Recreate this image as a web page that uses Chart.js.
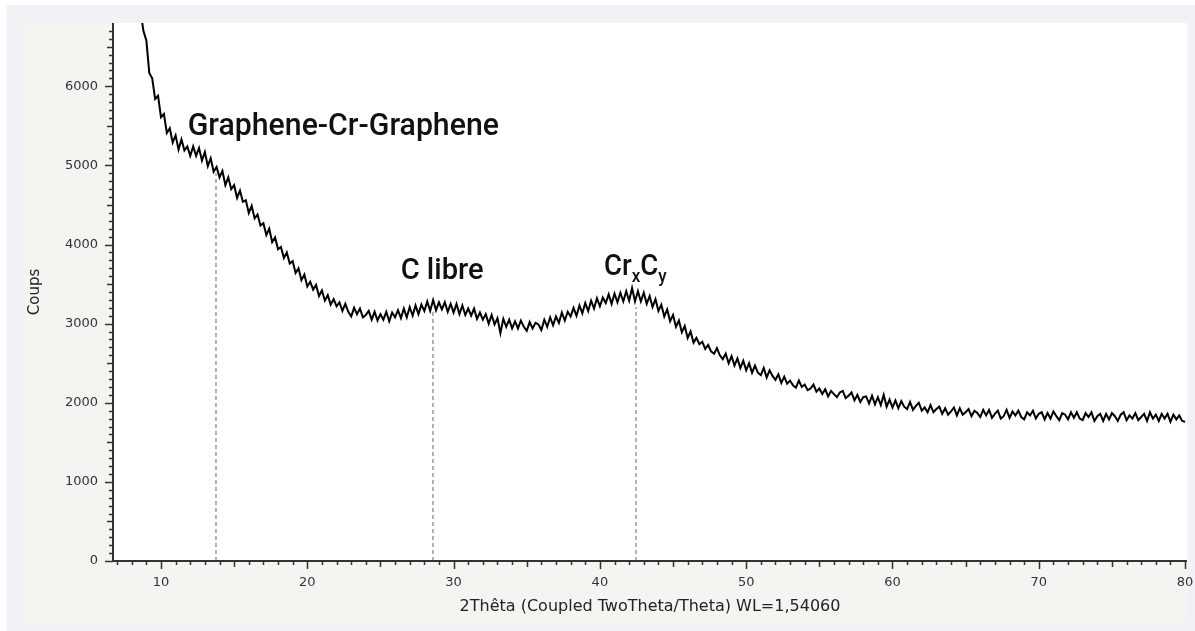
<!DOCTYPE html>
<html>
<head>
<meta charset="utf-8">
<script src="https://cdn.jsdelivr.net/npm/chart.js@4.4.1/dist/chart.umd.min.js"></script>
<style>
  html, body { margin: 0; padding: 0; background: #ffffff; }
  #xrd_wrap { width: 1195px; height: 631px; }
</style>
</head>
<body>
<div id="xrd_wrap"><canvas id="xrd_chart" width="1195" height="631"></canvas></div>
<script>
// Scan sampling (degrees 2theta)
const twoThetaStart = 8.6;
const twoThetaStep = 0.2;

// Counts, one row = 2 degrees
const counts = [
  6950, 6700, 6580, 6170, 6100, 5840, 5880, 5610, 5650, 5410,
  5470, 5290, 5380, 5200, 5330, 5190, 5240, 5120, 5240, 5120,
  5220, 5060, 5170, 4990, 5090, 4920, 4980, 4850, 4930, 4750,
  4850, 4700, 4750, 4590, 4680, 4540, 4560, 4400, 4490, 4330,
  4380, 4240, 4270, 4120, 4200, 4030, 4090, 3940, 3970, 3830,
  3900, 3760, 3790, 3640, 3700, 3550, 3620, 3470, 3530, 3430,
  3490, 3350, 3420, 3290, 3360, 3240, 3310, 3220, 3270, 3160,
  3250, 3150, 3090, 3200, 3120, 3190, 3080, 3110, 3160, 3050,
  3150, 3040, 3120, 3050, 3150, 3030, 3140, 3080, 3170, 3070,
  3190, 3080, 3210, 3100, 3230, 3120, 3240, 3160, 3280, 3160,
  3300, 3170, 3270, 3180, 3270, 3150, 3250, 3140, 3250, 3120,
  3230, 3110, 3190, 3100, 3190, 3060, 3140, 3050, 3120, 3000,
  3110, 2990, 3070, 2880, 3060, 2960, 3050, 2940, 3030, 2940,
  3040, 2960, 2910, 3020, 2940, 3010, 2990, 2920, 3050, 2960,
  3080, 2980, 3090, 3010, 3140, 3040, 3150, 3090, 3200, 3100,
  3230, 3130, 3260, 3160, 3290, 3190, 3320, 3220, 3330, 3260,
  3370, 3250, 3380, 3270, 3390, 3280, 3410, 3290, 3450, 3280,
  3410, 3280, 3390, 3250, 3350, 3210, 3310, 3160, 3240, 3090,
  3180, 3030, 3110, 2960, 3040, 2890, 2970, 2820, 2900, 2760,
  2820, 2740, 2770, 2680, 2730, 2650, 2620, 2690, 2600, 2550,
  2620, 2500, 2590, 2470, 2560, 2440, 2530, 2410, 2500, 2380,
  2470, 2380, 2350, 2440, 2320, 2410, 2340, 2290, 2360, 2250,
  2330, 2240, 2280, 2220, 2190, 2280, 2200, 2230, 2160, 2180,
  2230, 2140, 2180, 2110, 2170, 2080, 2150, 2110, 2070, 2130,
  2150, 2060, 2090, 2130, 2030, 2100, 2010, 2070, 2080, 1990,
  2090, 1980, 2070, 1970, 2100, 1950, 2040, 1940, 2030, 1930,
  2020, 1950, 1920, 2010, 1910, 1960, 2000, 1900, 1940, 1880,
  1970, 1880, 1920, 1950, 1860, 1930, 1850, 1890, 1940, 1840,
  1930, 1850, 1880, 1920, 1830, 1900, 1870, 1820, 1910, 1840,
  1910, 1810, 1860, 1900, 1800, 1830, 1910, 1810, 1890, 1840,
  1900, 1820, 1790, 1880, 1840, 1900, 1800, 1860, 1880, 1790,
  1870, 1800, 1890, 1830, 1780, 1870, 1850, 1790, 1880, 1810,
  1880, 1800, 1780, 1870, 1820, 1880, 1770, 1830, 1860, 1770,
  1860, 1790, 1870, 1830, 1770, 1850, 1880, 1780, 1840, 1800,
  1870, 1780, 1820, 1860, 1770, 1880, 1800, 1850, 1770, 1860,
  1800, 1860, 1760, 1850, 1790, 1840, 1770, 1760
];

// Marked phases: position of the dashed line and where it meets the curve
const peakNames = ['Graphene-Cr-Graphene', 'C libre', 'CrxCy'];
const peakAngles = [13.76, 28.59, 42.47];
const peakTops = [4900, 3150, 3210];

// Tick labels
const xTickValues = [10, 20, 30, 40, 50, 60, 70, 80];
const yTickValues = [0, 1000, 2000, 3000, 4000, 5000, 6000];

// Build {x,y} points for the scan
const scanPoints = counts.map((c, i) => ({
  x: Math.round((twoThetaStart + i * twoThetaStep) * 10) / 10,
  y: c
}));

// One dashed dataset per marked peak
const peakDatasets = peakAngles.map((a, i) => ({
  label: peakNames[i],
  data: [{ x: a, y: 0 }, { x: a, y: peakTops[i] }],
  borderColor: '#666666',
  borderWidth: 1,
  borderDash: [4, 3],
  pointRadius: 0
}));

// Label placement (data units: left edge in degrees, baseline in counts)
const labelPlacement = [
  { x: 11.83, y: 5390, size: 32, squeeze: 0.945 },
  { x: 26.38, y: 3560, size: 30, squeeze: 0.97 },
  { x: 40.28, y: 3610, size: 29, squeeze: 0.95 }
];
const labelFont = '500 {size}px Roboto, "Liberation Sans", sans-serif';

// Page, panel and plot backgrounds
const panelBackground = {
  id: 'panelBackground',
  beforeDraw(chart) {
    const { ctx, chartArea } = chart;
    ctx.save();
    ctx.fillStyle = '#ffffff';
    ctx.fillRect(0, 0, chart.width, chart.height);
    ctx.fillStyle = '#f0f2f5';
    ctx.fillRect(7, 5, chart.width - 7, chart.height - 5);
    ctx.fillStyle = '#f5f4f1';
    ctx.fillRect(22, 23, chartArea.right - 22, 599);
    ctx.fillStyle = '#ffffff';
    ctx.fillRect(chartArea.left, chartArea.top,
      chartArea.right - chartArea.left, chartArea.bottom - chartArea.top);
    ctx.restore();
  }
};

// Axis lines with major / half / minor tick marks
const axisTicks = {
  id: 'axisTicks',
  afterDraw(chart) {
    const { ctx, chartArea } = chart;
    const x = chart.scales.x;
    const y = chart.scales.y;
    ctx.save();
    ctx.strokeStyle = '#333333';
    ctx.lineWidth = 1.5;
    ctx.beginPath();
    for (let v = 7; v <= 80; v++) {
      const px = Math.round(x.getPixelForValue(v)) + 0.5;
      const len = v % 10 === 0 ? 8 : (v % 5 === 0 ? 6 : 4);
      ctx.moveTo(px, chartArea.bottom);
      ctx.lineTo(px, chartArea.bottom + len);
    }
    for (let v = 0; v <= 6700; v += 100) {
      const py = Math.round(y.getPixelForValue(v)) + 0.5;
      const len = v % 1000 === 0 ? 8 : (v % 500 === 0 ? 6 : 4);
      ctx.moveTo(chartArea.left, py);
      ctx.lineTo(chartArea.left - len, py);
    }
    ctx.stroke();
    ctx.lineWidth = 2;
    ctx.beginPath();
    ctx.moveTo(chartArea.left, chartArea.top);
    ctx.lineTo(chartArea.left, chartArea.bottom);
    ctx.lineTo(chartArea.right, chartArea.bottom);
    ctx.stroke();
    ctx.restore();
  }
};

// Phase names written over the curve
const peakLabels = {
  id: 'peakLabels',
  afterDatasetsDraw(chart) {
    const { ctx } = chart;
    const x = chart.scales.x;
    const y = chart.scales.y;
    ctx.save();
    ctx.fillStyle = '#111111';
    ctx.textBaseline = 'alphabetic';
    peakNames.forEach((name, i) => {
      const p = labelPlacement[i];
      const px = x.getPixelForValue(p.x);
      const py = y.getPixelForValue(p.y);
      ctx.save();
      ctx.translate(px, py);
      ctx.scale(p.squeeze, 1);
      if (name === 'CrxCy') {
        // Cr with subscript x, C with subscript y
        const big = labelFont.replace('{size}', p.size);
        const small = labelFont.replace('{size}', Math.round(p.size * 0.62));
        let cx = 0;
        const parts = [['Cr', big, 0], ['x', small, 7], ['C', big, 0], ['y', small, 7]];
        parts.forEach(([t, f, dy]) => {
          ctx.font = f;
          ctx.fillText(t, cx, dy);
          cx += ctx.measureText(t).width;
        });
      } else {
        ctx.font = labelFont.replace('{size}', p.size);
        ctx.fillText(name, 0, 0);
      }
      ctx.restore();
    });
    ctx.restore();
  }
};

const tickFont = { family: '"DejaVu Sans", sans-serif', size: 13 };
const titleFamily = '"DejaVu Sans", sans-serif';

const config = {
  type: 'line',
  data: {
    datasets: [
      {
        label: 'Scan',
        data: scanPoints,
        borderColor: '#000000',
        borderWidth: 2,
        pointRadius: 0,
        tension: 0
      },
      ...peakDatasets
    ]
  },
  options: {
    responsive: false,
    animation: false,
    layout: { padding: { top: 23, right: 8, left: 0, bottom: 0 } },
    plugins: {
      legend: { display: false },
      tooltip: { enabled: false }
    },
    scales: {
      x: {
        type: 'linear',
        min: 6.72,
        max: 80.13,
        afterFit: (scale) => {
          scale.height = 70;
          scale.paddingLeft = 0;
          scale.paddingRight = 0;
        },
        afterBuildTicks: (scale) => { scale.ticks = xTickValues.map(v => ({ value: v })); },
        grid: { display: false, drawTicks: false },
        border: { display: false },
        ticks: {
          padding: 14,
          color: '#333333',
          font: tickFont,
          maxRotation: 0,
          callback: (v) => String(v)
        },
        title: {
          display: true,
          text: '2Thêta (Coupled TwoTheta/Theta) WL=1,54060',
          color: '#222222',
          font: { family: titleFamily, size: 16 },
          padding: { top: 0, bottom: 15 }
        }
      },
      y: {
        type: 'linear',
        min: 0,
        max: 6800,
        afterFit: (scale) => {
          scale.width = 113;
          scale.paddingTop = 0;
          scale.paddingBottom = 0;
        },
        afterBuildTicks: (scale) => { scale.ticks = yTickValues.map(v => ({ value: v })); },
        grid: { display: false, drawTicks: false },
        border: { display: false },
        ticks: {
          padding: 15,
          color: '#333333',
          font: tickFont,
          callback: (v) => String(v)
        },
        title: {
          display: true,
          text: 'Coups',
          color: '#222222',
          font: { family: titleFamily, size: 15 },
          padding: { top: 26, bottom: 0 }
        }
      }
    }
  },
  plugins: [panelBackground, axisTicks, peakLabels]
};

const ctx = document.getElementById('xrd_chart').getContext('2d');
new Chart(ctx, config);
</script>
</body>
</html>
